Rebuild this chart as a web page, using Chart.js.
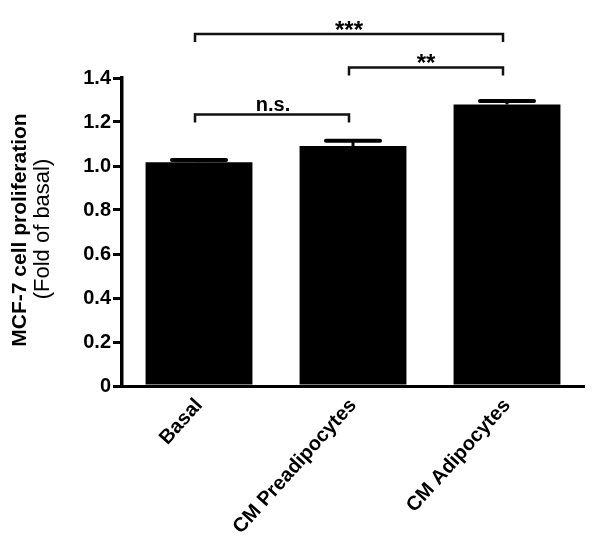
<!DOCTYPE html>
<html>
<head>
<meta charset="utf-8">
<script src="https://cdn.jsdelivr.net/npm/chart.js@4/dist/chart.umd.min.js"></script>
<style>
  html, body { margin: 0; padding: 0; background: #fff; }
  #wrap { width: 600px; height: 544px; position: relative; }
</style>
</head>
<body>
<div id="wrap"><canvas id="c" width="600" height="544"></canvas></div>
<script>
// ---- data ----
const categories = ['Basal', 'CM Preadipocytes', 'CM Adipocytes'];
const meanValues = [1.017, 1.091, 1.280];
const semValues = [0.010, 0.024, 0.015];
const yTickValues = [0, 0.2, 0.4, 0.6, 0.8, 1.0, 1.2, 1.4];
const bracketFrom = [0, 1, 0];
const bracketTo = [1, 2, 2];
const bracketLevel = [1.234, 1.448, 1.600];
const bracketLabel = ['n.s.', '**', '***'];
const yTitle = 'MCF-7 cell proliferation';
const ySubTitle = '(Fold of basal)';

const FONT = "'Liberation Sans', Arial, Helvetica, sans-serif";

const overlay = {
  id: 'overlay',
  afterDraw(chart) {
    const ctx = chart.ctx;
    const xs = chart.scales.x, ys = chart.scales.y;
    const meta = chart.getDatasetMeta(0);
    ctx.save();
    // error bars (upper only)
    ctx.strokeStyle = '#000';
    meta.data.forEach((bar, i) => {
      const xc = bar.x;
      const yTop = ys.getPixelForValue(meanValues[i]);
      const yErr = ys.getPixelForValue(meanValues[i] + semValues[i]);
      ctx.lineWidth = 3;
      ctx.beginPath();
      ctx.moveTo(xc, yTop);
      ctx.lineTo(xc, yErr);
      ctx.stroke();
      ctx.lineWidth = 4;
      ctx.lineCap = 'round';
      ctx.beginPath();
      ctx.moveTo(xc - 27, yErr);
      ctx.lineTo(xc + 27, yErr);
      ctx.stroke();
      ctx.lineCap = 'butt';
    });
    // significance brackets
    ctx.strokeStyle = '#111';
    ctx.fillStyle = '#000';
    ctx.lineWidth = 2.5;
    for (let k = 0; k < bracketLabel.length; k++) {
      const x1 = xs.getPixelForValue(bracketFrom[k]) - 4;
      const x2 = xs.getPixelForValue(bracketTo[k]) - 4;
      const y = ys.getPixelForValue(bracketLevel[k]);
      ctx.beginPath();
      ctx.moveTo(x1, y + 8);
      ctx.lineTo(x1, y);
      ctx.lineTo(x2, y);
      ctx.lineTo(x2, y + 8);
      ctx.stroke();
      const isStar = bracketLabel[k].indexOf('*') >= 0;
      ctx.font = (isStar ? 'bold 24px ' : 'bold 20px ') + FONT;
      ctx.textAlign = 'center';
      ctx.textBaseline = 'alphabetic';
      ctx.fillText(bracketLabel[k], (x1 + x2) / 2 + (isStar ? 0 : 1), isStar ? y + 4 : y - 4);
    }
    // y axis titles
    const cy = (chart.chartArea.top + chart.chartArea.bottom) / 2;
    ctx.translate(20, cy - 2);
    ctx.rotate(-Math.PI / 2);
    ctx.textAlign = 'center';
    ctx.textBaseline = 'middle';
    ctx.font = 'bold 21px ' + FONT;
    ctx.fillText(yTitle, 0, 0);
    ctx.font = '22px ' + FONT;
    ctx.fillText(ySubTitle, 1, 23);
    ctx.restore();
  }
};

new Chart(document.getElementById('c'), {
  type: 'bar',
  data: {
    labels: categories,
    datasets: [{
      data: meanValues,
      backgroundColor: '#000',
      borderWidth: 0,
      categoryPercentage: 1.0,
      barPercentage: 0.694
    }]
  },
  options: {
    responsive: false,
    animation: false,
    devicePixelRatio: 1,
    layout: { padding: { left: 0, right: 16, top: 78, bottom: 0 } },
    plugins: { legend: { display: false }, tooltip: { enabled: false }, title: { display: false } },
    scales: {
      x: {
        grid: { display: false, drawTicks: false },
        border: { display: true, color: '#000', width: 3 },
        ticks: {
          color: '#000',
          font: { family: FONT, size: 20, weight: 'bold' },
          minRotation: 48, maxRotation: 48,
          padding: 8
        },
        afterFit(s) { s.height = 158; }
      },
      y: {
        min: 0, max: 1.4,
        afterBuildTicks(s) { s.ticks = yTickValues.map(v => ({ value: v })); },
        grid: { drawOnChartArea: false, drawTicks: true, tickLength: 9, color: '#000', lineWidth: 3 },
        border: { display: true, color: '#000', width: 3.5 },
        ticks: {
          color: '#000',
          font: { family: FONT, size: 20, weight: 'bold' },
          padding: 2,
          callback: v => (v === 0 ? '0' : v.toFixed(1))
        },
        afterFit(s) { s.width = 122; }
      }
    }
  },
  plugins: [overlay]
});
</script>
</body>
</html>
